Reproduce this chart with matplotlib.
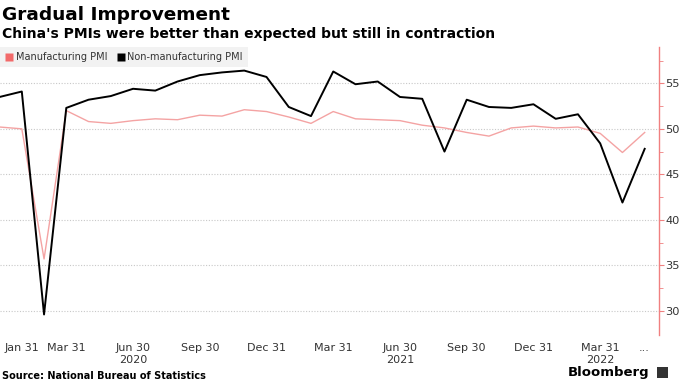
import matplotlib.pyplot as plt
from matplotlib.lines import Line2D
from matplotlib.patches import Rectangle

# Monthly official PMIs, Dec 2019 .. May 2022
months = ['Dec', 'Jan', 'Feb', 'Mar', 'Apr', 'May', 'Jun', 'Jul', 'Aug', 'Sep', 'Oct', 'Nov',
          'Dec', 'Jan', 'Feb', 'Mar', 'Apr', 'May', 'Jun', 'Jul', 'Aug', 'Sep', 'Oct', 'Nov',
          'Dec', 'Jan', 'Feb', 'Mar', 'Apr', 'May']
manufacturing = [50.2, 50.0, 35.7, 52.0, 50.8, 50.6, 50.9, 51.1, 51.0, 51.5, 51.4, 52.1,
                 51.9, 51.3, 50.6, 51.9, 51.1, 51.0, 50.9, 50.4, 50.1, 49.6, 49.2, 50.1,
                 50.3, 50.1, 50.2, 49.5, 47.4, 49.6]
non_manufacturing = [53.5, 54.1, 29.6, 52.3, 53.2, 53.6, 54.4, 54.2, 55.2, 55.9, 56.2, 56.4,
                     55.7, 52.4, 51.4, 56.3, 54.9, 55.2, 53.5, 53.3, 47.5, 53.2, 52.4, 52.3,
                     52.7, 51.1, 51.6, 48.4, 41.9, 47.8]

tick_pos = [1, 3, 6, 9, 12, 15, 18, 21, 24, 27, 29]
tick_labels = ['Jan 31', 'Mar 31', 'Jun 30\n2020', 'Sep 30', 'Dec 31', 'Mar 31',
               'Jun 30\n2021', 'Sep 30', 'Dec 31', 'Mar 31\n2022', '...']

red_line = '#f4a3a3'
red_key = '#f26a6a'
axis_red = '#f08080'

fig = plt.figure(figsize=(6.8, 3.83), dpi=100)
ax = fig.add_axes([0.0, 0.125, 0.969, 0.752])

x = list(range(len(months)))
ax.plot(x, manufacturing, color=red_line, lw=1.0, zorder=3)
ax.plot(x, non_manufacturing, color='black', lw=1.4, zorder=4)

ax.set_xlim(0.02, 29.64)
ax.set_ylim(27.33, 58.98)

# axes styling
for side in ['top', 'left', 'bottom']:
    ax.spines[side].set_visible(False)
ax.spines['right'].set_color(axis_red)
ax.spines['right'].set_linewidth(1.0)

ax.yaxis.tick_right()
ax.set_yticks([30, 35, 40, 45, 50, 55])
ax.set_yticks([32.5, 37.5, 42.5, 47.5, 52.5, 57.5], minor=True)
ax.tick_params(axis='y', which='both', colors=axis_red, labelcolor='#333333',
               labelsize=8.2, direction='out', pad=1)
ax.tick_params(axis='y', which='major', length=3.5)
ax.tick_params(axis='y', which='minor', length=3)
ax.yaxis.grid(True, which='major', color='#c8c8c8', linestyle=(0, (1, 1.5)), lw=0.8)

ax.set_xticks(tick_pos)
ax.set_xticklabels(tick_labels, fontsize=8, color='#333333')
ax.tick_params(axis='x', length=0, pad=6)

# legend
handles = [Line2D([], [], marker='s', color='none', markerfacecolor=red_key,
                  markeredgecolor='none', markersize=6, label='Manufacturing PMI'),
           Line2D([], [], marker='s', color='none', markerfacecolor='black',
                  markeredgecolor='none', markersize=6, label='Non-manufacturing PMI')]
leg = ax.legend(handles=handles, loc='upper left', bbox_to_anchor=(0.0, 1.0), ncol=2,
                frameon=True, fontsize=7, handlelength=0.8, handletextpad=0.3,
                columnspacing=1.0, borderpad=0.5, borderaxespad=0.0)
leg.get_frame().set_facecolor('#efefef')
leg.get_frame().set_edgecolor('none')
leg.get_frame().set_boxstyle('square', pad=0.0)
for t in leg.get_texts():
    t.set_color('#333333')

# titles
fig.text(0.003, 0.962, 'Gradual Improvement', fontsize=13.3, fontweight='bold', va='center')
fig.text(0.003, 0.912, "China's PMIs were better than expected but still in contraction",
         fontsize=10, fontweight='bold', va='center')
fig.text(0.003, 0.018, 'Source: National Bureau of Statistics', fontsize=7,
         fontweight='bold', va='center')
fig.text(0.955, 0.028, 'Bloomberg', fontsize=9.5, fontweight='bold', va='center', ha='right')
fig.patches.append(Rectangle((0.966, 0.013), 0.016, 0.03, transform=fig.transFigure,
                             facecolor='#333333', edgecolor='none'))

fig.savefig('out.png', dpi=100)
